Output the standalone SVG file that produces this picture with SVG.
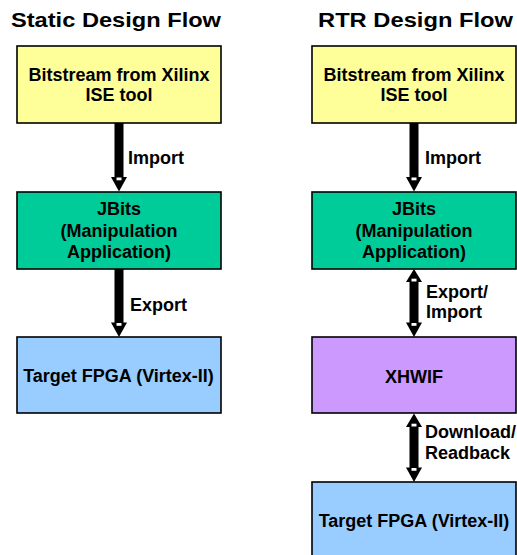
<svg xmlns="http://www.w3.org/2000/svg" width="517" height="555" viewBox="0 0 517 555">
<style>
text{font-family:"Liberation Sans",Arial,sans-serif;font-weight:bold;fill:#000}
.t{font-size:21px;text-anchor:middle}
.n{font-size:18px;text-anchor:middle}
.l{font-size:18px}
.box{stroke:#000;stroke-width:1.6}
.y{fill:#FFFF99}.g{fill:#00CC99}.b{fill:#99CCFF}.p{fill:#CC99FF}
.sh{fill:#000}
.w{fill:#fff}
</style>
<text class="t" x="116" y="27" textLength="210" lengthAdjust="spacingAndGlyphs">Static Design Flow</text>
<text class="t" x="415.5" y="27" textLength="195" lengthAdjust="spacingAndGlyphs">RTR Design Flow</text>

<g id="s-bitstream"><rect class="box y" x="17" y="46" width="204" height="77"/><text class="n" x="119" y="81">Bitstream from Xilinx</text><text class="n" x="119" y="101">ISE tool</text></g>
<g id="s-jbits"><rect class="box g" x="17" y="192" width="204" height="77"/><text class="n" x="119" y="215">JBits</text><text class="n" x="119" y="236.5">(Manipulation</text><text class="n" x="119" y="258">Application)</text></g>
<g id="s-target"><rect class="box b" x="17" y="337" width="204" height="76"/><text class="n" x="118.5" y="382">Target FPGA (Virtex-II)</text></g>

<g id="r-bitstream"><rect class="box y" x="312" y="46" width="204" height="77"/><text class="n" x="414" y="81">Bitstream from Xilinx</text><text class="n" x="414" y="101">ISE tool</text></g>
<g id="r-jbits"><rect class="box g" x="312" y="192" width="204" height="77"/><text class="n" x="414" y="215">JBits</text><text class="n" x="414" y="236.5">(Manipulation</text><text class="n" x="414" y="258">Application)</text></g>
<g id="r-xhwif"><rect class="box p" x="312" y="337" width="204" height="76"/><text class="n" x="414" y="383">XHWIF</text></g>
<g id="r-target"><rect class="box b" x="312" y="482" width="204" height="80"/><text class="n" x="414" y="527">Target FPGA (Virtex-II)</text></g>

<g id="connectors">
<rect class="sh" x="114.5" y="123" width="9" height="55"/>
<polygon class="sh" points="111,177 127,177 119,191.5"/>
<rect class="w" x="116.5" y="177.5" width="5" height="2.8"/>
<text class="l" x="128" y="164">Import</text>
<rect class="sh" x="114.5" y="269" width="9" height="55"/>
<polygon class="sh" points="111,322.5 127,322.5 119,337"/>
<rect class="w" x="116.5" y="323" width="5" height="2.8"/>
<text class="l" x="130" y="311">Export</text>
<rect class="sh" x="409.5" y="123" width="9" height="55"/>
<polygon class="sh" points="406,177 422,177 414,191.5"/>
<rect class="w" x="411.5" y="177.5" width="5" height="2.8"/>
<text class="l" x="425" y="164">Import</text>
<rect class="sh" x="409.5" y="280" width="9" height="44"/>
<polygon class="sh" points="406,282 422,282 414,269"/>
<polygon class="sh" points="406,322.5 422,322.5 414,337"/>
<rect class="w" x="411.5" y="278.7" width="5" height="2.8"/>
<rect class="w" x="411.5" y="323" width="5" height="2.8"/>
<text class="l" x="426" y="298">Export/</text>
<text class="l" x="426" y="318">Import</text>
<rect class="sh" x="409.5" y="424" width="9" height="46"/>
<polygon class="sh" points="406,427 422,427 414,413.5"/>
<polygon class="sh" points="406,467.5 422,467.5 414,482"/>
<rect class="w" x="411.5" y="423.7" width="5" height="2.8"/>
<rect class="w" x="411.5" y="468" width="5" height="2.8"/>
<text class="l" x="425" y="438">Download/</text>
<text class="l" x="425" y="459">Readback</text>
</g>
</svg>
